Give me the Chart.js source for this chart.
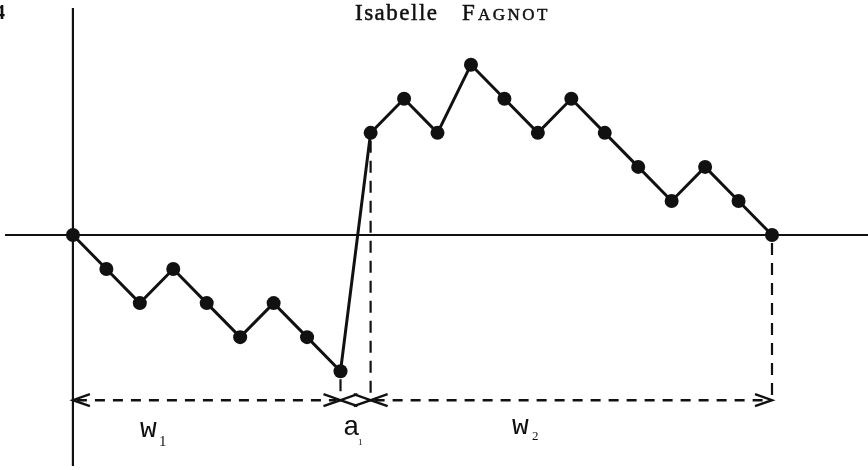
<!DOCTYPE html>
<html>
<head>
<meta charset="utf-8">
<script src="https://cdn.jsdelivr.net/npm/chart.js@4.4.1/dist/chart.umd.min.js"></script>
<style>
  html, body { margin: 0; padding: 0; background: #fff; }
  #wrap { width: 868px; height: 470px; }
</style>
</head>
<body>
<div id="wrap"><canvas id="walk" width="868" height="470"></canvas></div>
<script>
// path of the walk: first excursion w1 (below zero), jump a1, second excursion w2
const walkX = [0, 1, 2, 3, 4, 5, 6, 7, 8,
  8.9, 9.9, 10.9, 11.9, 12.9, 13.9, 14.9, 15.9, 16.9, 17.9, 18.9, 19.9, 20.9];
const walkY = [0, -1, -2, -1, -2, -3, -2, -3, -4,
  3, 4, 3, 5, 4, 3, 4, 3, 2, 1, 2, 1, 0];

// span markers under the axis (start/end of w1, a1, w2)
const spanStart = [0, 8, 8.9];
const spanEnd = [8, 8.9, 20.9];
const spanNames = ["w", "a", "w"];
const spanSubs = ["1", "1", "2"];
const dropX = [8, 8.9, 20.9];   // points dropped down to the span line
const spanLevel = -4.85;

const pageTitle = "Isabelle";
const pageAuthor = "FAGNOT";
const pageNumber = "4";

const points = walkX.map((x, i) => ({ x, y: walkY[i] }));

// ---------------- axes through the origin ----------------
const originAxes = {
  id: "originAxes",
  beforeDatasetsDraw(chart) {
    const { ctx, scales: { x, y } } = chart;
    const x0 = x.getPixelForValue(0);
    const y0 = y.getPixelForValue(0);
    ctx.save();
    ctx.strokeStyle = "#111";
    ctx.lineWidth = 1.8;
    ctx.beginPath();
    ctx.moveTo(5, y0);
    ctx.lineTo(868, y0);
    ctx.stroke();
    ctx.lineWidth = 2.2;
    ctx.beginPath();
    ctx.moveTo(x0, 8);
    ctx.lineTo(x0, 466);
    ctx.stroke();

    // dashed drops from the walk to the span line
    const yl = y.getPixelForValue(spanLevel);
    ctx.setLineDash([12, 8]);
    ctx.lineWidth = 2.2;
    dropX.forEach(v => {
      const i = walkX.indexOf(v);
      const px = x.getPixelForValue(v);
      ctx.beginPath();
      ctx.moveTo(px, y.getPixelForValue(walkY[i]) + 8);
      ctx.lineTo(px, yl - 2);
      ctx.stroke();
    });
    ctx.restore();
  }
};

// ---------------- spans, labels, header ----------------
function arrowHead(ctx, px, py, dir) {
  // dir = -1 tip points left, 1 tip points right
  ctx.beginPath();
  ctx.moveTo(px - dir * 17, py - 6);
  ctx.lineTo(px, py);
  ctx.lineTo(px - dir * 17, py + 6);
  ctx.stroke();
}

const spanMarks = {
  id: "spanMarks",
  afterDatasetsDraw(chart) {
    const { ctx, scales: { x, y } } = chart;
    const yl = y.getPixelForValue(spanLevel);
    ctx.save();
    ctx.strokeStyle = "#111";
    ctx.fillStyle = "#111";
    ctx.lineWidth = 2.4;

    spanStart.forEach((s, i) => {
      const a = x.getPixelForValue(s);
      const b = x.getPixelForValue(spanEnd[i]);
      ctx.setLineDash([10, 8]);
      ctx.beginPath();
      ctx.moveTo(a + 4, yl);
      ctx.lineTo(b - 4, yl);
      if (b - a > 60) ctx.stroke();
      ctx.setLineDash([]);
      arrowHead(ctx, a, yl, -1);
      arrowHead(ctx, b, yl, 1);
    });

    // labels w1, a1, w2
    const labelPos = [[140, 437, 159, 446, 15], [343, 435, 358, 445, 9], [512, 434, 532, 440, 13]];
    spanNames.forEach((n, i) => {
      const [lx, ly, sx, sy, ss] = labelPos[i];
      ctx.font = "28px 'Liberation Mono'";
      ctx.textBaseline = "alphabetic";
      ctx.textAlign = "left";
      ctx.fillText(n, lx, ly);
      ctx.font = ss + "px 'Liberation Serif'";
      ctx.fillText(spanSubs[i], sx, sy);
    });

    // running header
    ctx.lineWidth = 0.5;
    ctx.font = "23px 'Liberation Serif'";
    ctx.letterSpacing = "1.5px";
    ctx.fillText(pageTitle, 355, 20);
    ctx.strokeText(pageTitle, 355, 20);
    ctx.fillText(pageAuthor[0], 462, 20);
    ctx.strokeText(pageAuthor[0], 462, 20);
    ctx.font = "17px 'Liberation Serif'";
    ctx.letterSpacing = "2.5px";
    ctx.fillText(pageAuthor.slice(1), 478, 20);
    ctx.strokeText(pageAuthor.slice(1), 478, 20);
    ctx.letterSpacing = "0px";
    ctx.font = "bold 20px 'Liberation Serif'";
    ctx.fillText(pageNumber, -5, 19);
    ctx.restore();
  }
};

new Chart(document.getElementById("walk"), {
  type: "scatter",
  data: {
    datasets: [{
      data: points,
      showLine: true,
      borderColor: "#111",
      borderWidth: 3,
      pointRadius: 7,
      pointBackgroundColor: "#111",
      pointBorderColor: "#111",
      pointBorderWidth: 0
    }]
  },
  options: {
    responsive: false,
    animation: false,
    layout: { padding: 0, autoPadding: false },
    plugins: { legend: { display: false }, tooltip: { enabled: false }, title: { display: false } },
    scales: {
      x: { type: "linear", display: false, min: -2.18, max: 23.77 },
      y: { type: "linear", display: false, min: -6.9, max: 6.9 }
    }
  },
  plugins: [originAxes, spanMarks]
});
</script>
</body>
</html>
